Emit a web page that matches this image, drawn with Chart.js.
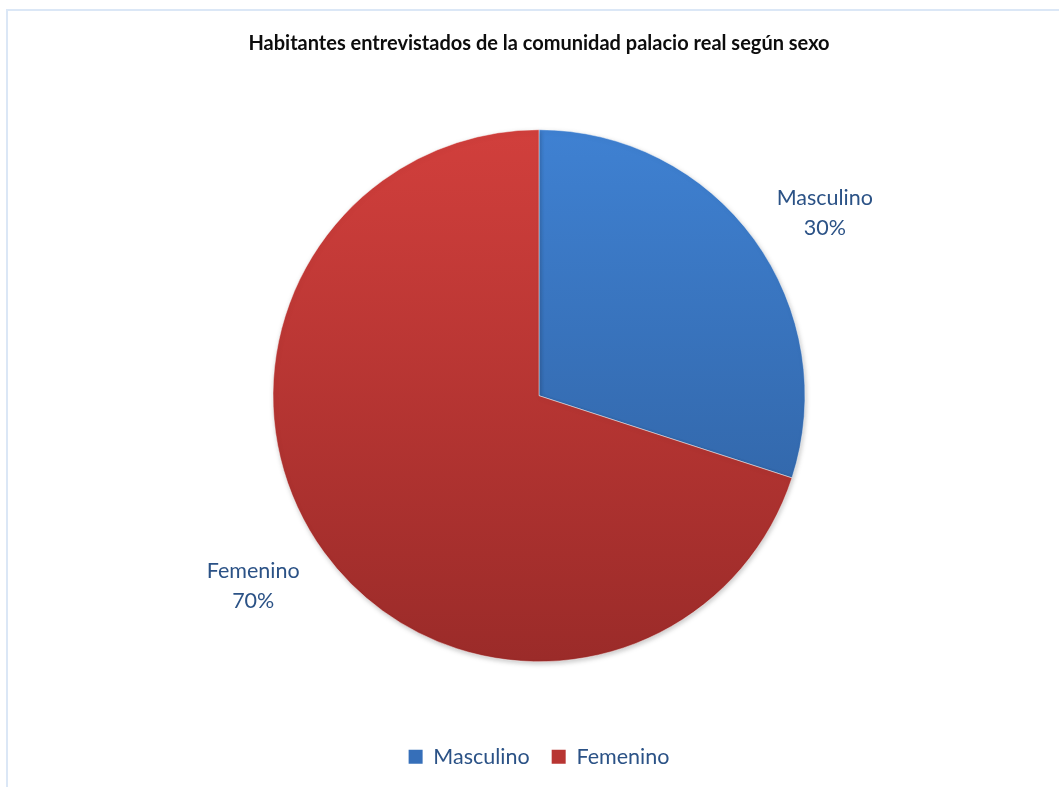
<!DOCTYPE html>
<html lang="es">
<head>
<meta charset="utf-8">
<title>Habitantes entrevistados según sexo</title>
<script src="https://cdn.jsdelivr.net/npm/chart.js@4.4.1/dist/chart.umd.min.js"></script>
<style>
    html, body { margin: 0; padding: 0; background: #fff; overflow: hidden; }
    #marco {
        position: absolute; left: 6px; top: 9px;
        width: 1120px; height: 820px;
        border: 2px solid #dbe7f6;
    }
    #wrap { position: absolute; left: 0; top: 0; width: 1059px; height: 787px; }
</style>
</head>
<body>
<div id="marco"></div>
<div id="wrap"><canvas id="grafico"></canvas></div>
<script>
// --- Datos ---
const categorias = ['Masculino', 'Femenino'];
const valores = [30, 70];
const titulo = 'Habitantes entrevistados de la comunidad palacio real según sexo';

// colores (arriba / abajo del degradado)
const coloresClaros = ['#3f81d2', '#d13f3c'];
const coloresOscuros = ['#2d5c99', '#9b2b29'];
const coloresLeyenda = ['#366fb9', '#b83532'];
const colorTexto = '#2b5286';
const fuente = 'Lato, "Open Sans", sans-serif';
const RADIO = 266;

function degradado(context) {
    const chart = context.chart;
    const area = chart.chartArea;
    const i = context.dataIndex;
    if (!area) return coloresClaros[i];
    const cy = (area.top + area.bottom) / 2;
    const g = chart.ctx.createLinearGradient(0, cy - RADIO, 0, cy + RADIO);
    g.addColorStop(0, coloresClaros[i]);
    g.addColorStop(1, coloresOscuros[i]);
    return g;
}

// sombra suave bajo la torta
const sombraPlugin = {
    id: 'sombra',
    beforeDatasetsDraw(chart) {
        const ctx = chart.ctx;
        ctx.save();
        ctx.shadowColor = 'rgba(0,0,0,0.22)';
        ctx.shadowBlur = 5;
        ctx.shadowOffsetX = 1;
        ctx.shadowOffsetY = 2;
    },
    afterDatasetsDraw(chart) {
        chart.ctx.restore();
    }
};

// etiquetas fuera del sector: nombre + porcentaje
const etiquetasPlugin = {
    id: 'etiquetas',
    afterDraw(chart) {
        const ctx = chart.ctx;
        const meta = chart.getDatasetMeta(0);
        const total = valores.reduce((a, b) => a + b, 0);
        const size = 21.5;
        const lh = 30;
        ctx.save();
        ctx.font = `${size}px ${fuente}`;
        ctx.fillStyle = colorTexto;
        ctx.textAlign = 'center';
        ctx.textBaseline = 'middle';
        meta.data.forEach((arc, i) => {
            const { x, y, startAngle, endAngle, outerRadius } = arc.getProps(['x', 'y', 'startAngle', 'endAngle', 'outerRadius'], true);
            // un poco girado en sentido horario, como en el original
            const mid = (startAngle + endAngle) / 2 + 0.05;
            const r = outerRadius * 1.283;
            const cx = x + Math.cos(mid) * r;
            const cy = y + Math.sin(mid) * r + 4;
            const pct = Math.round(valores[i] / total * 100) + '%';
            ctx.fillText(categorias[i], cx, cy - lh / 2);
            ctx.fillText(pct, cx, cy + lh / 2);
        });
        ctx.restore();
    }
};

new Chart(document.getElementById('grafico'), {
    type: 'pie',
    data: {
        labels: categorias,
        datasets: [{
            data: valores,
            backgroundColor: degradado,
            borderColor: 'rgba(255,255,255,0.45)',
            borderWidth: 1,
            radius: RADIO
        }]
    },
    options: {
        responsive: true,
        maintainAspectRatio: false,
        animation: false,
        layout: { padding: { left: 20, right: 1, top: 0, bottom: 9.5 } },
        plugins: {
            title: {
                display: true,
                text: titulo,
                color: '#0d0d0d',
                font: { size: 20, weight: 'bold', family: fuente },
                padding: { top: 32, bottom: 11.4 }
            },
            legend: {
                position: 'bottom',
                labels: {
                    color: colorTexto,
                    font: { size: 21.5, family: fuente },
                    boxWidth: 14,
                    boxHeight: 14,
                    padding: 22,
                    generateLabels(chart) {
                        const items = Chart.overrides.pie.plugins.legend.labels.generateLabels(chart);
                        items.forEach((it, i) => {
                            it.fillStyle = coloresLeyenda[i];
                            it.strokeStyle = coloresLeyenda[i];
                            it.lineWidth = 0;
                        });
                        return items;
                    }
                }
            },
            tooltip: { enabled: false }
        }
    },
    plugins: [sombraPlugin, etiquetasPlugin]
});
</script>
</body>
</html>
